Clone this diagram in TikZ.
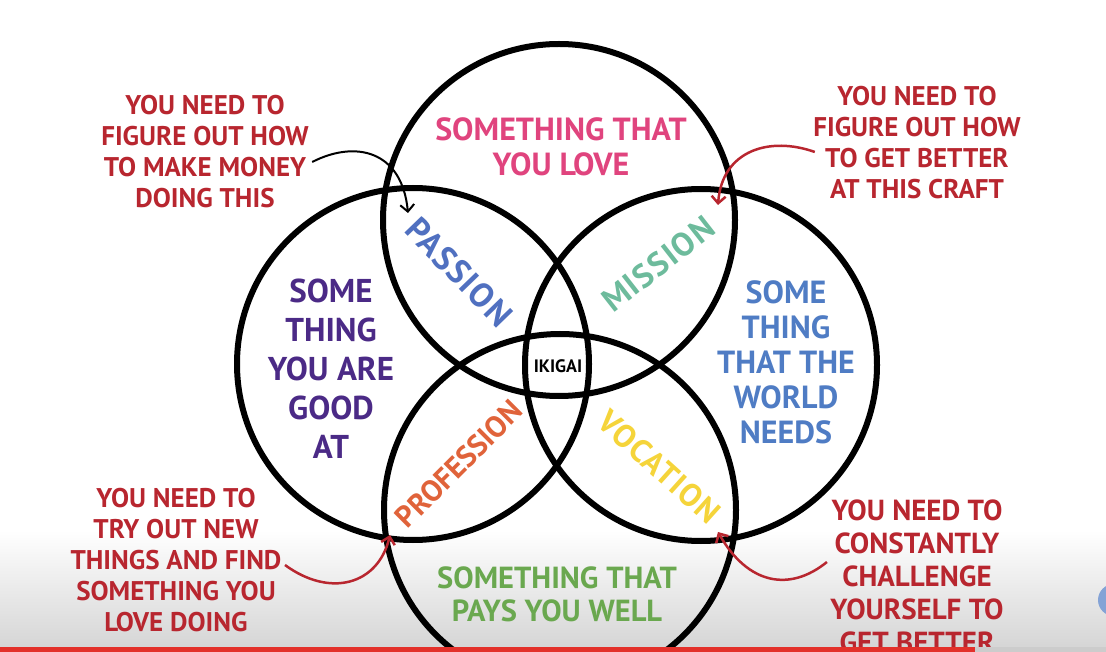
\documentclass[tikz,border=0pt]{standalone}
\usepackage{fontspec}
\setmainfont{PT Sans}
\usetikzlibrary{arrows.meta}
\definecolor{advicered}{HTML}{B8262F}
\definecolor{lovepink}{HTML}{E0447E}
\definecolor{goodpurple}{HTML}{4B2A86}
\definecolor{worldblue}{HTML}{4F7CC4}
\definecolor{paidgreen}{HTML}{6AA84F}
\definecolor{passionblue}{HTML}{5070C0}
\definecolor{missionteal}{HTML}{6DBB9C}
\definecolor{professionorange}{HTML}{E0633A}
\definecolor{vocationyellow}{HTML}{F5D43A}
\definecolor{barred}{HTML}{E3302A}
\begin{document}
\begin{tikzpicture}[x=1pt, y=-1pt,
    ring/.style={draw, circle, line width=6pt, minimum size=352pt, inner sep=0pt},
    advice/.style={text=advicered, align=center, font=\fontsize{27}{31}\selectfont\bfseries},
    region/.style={align=center, font=\fontsize{32}{35}\selectfont\bfseries},
    overlap/.style={font=\fontsize{32}{32}\selectfont\bfseries\addfontfeature{LetterSpace=4}},
    pointer/.style={line width=2.5pt, draw=advicered, -{Straight Barb[length=7pt,width=14pt]}}]
    \clip (0,0) rectangle (1106,652);
    \shade[top color=white, bottom color=black!17] (0,530) rectangle (1106,652);
    % the four circles
    \foreach \n/\x/\y in {love/559/220, good/413/364, world/701/365, paid/560/510}
        \node[ring] (\n) at (\x,\y) {};
    \node[region, text=lovepink] (loveTxt) at (561,147) {SOMETHING THAT\\YOU LOVE};
    \node[region, text=goodpurple, font=\fontsize{33}{39}\selectfont\bfseries] (goodTxt) at (331,369) {SOME\\THING\\YOU ARE\\GOOD\\AT};
    \node[region, text=worldblue] (worldTxt) at (786,362) {SOME\\THING\\THAT THE\\WORLD\\NEEDS};
    \node[region, text=paidgreen, font=\fontsize{30.5}{33}\selectfont\bfseries] (paidTxt) at (557,594) {SOMETHING THAT\\PAYS YOU WELL};
    \node[overlap, text=passionblue, rotate=-46, font=\fontsize{34}{34}\selectfont\bfseries\addfontfeature{LetterSpace=4}] (passion) at (459,272) {PASSION};
    \node[overlap, text=missionteal, rotate=38, font=\fontsize{33}{33}\selectfont\bfseries\addfontfeature{LetterSpace=4}] (mission) at (658,264) {MISSION};
    \node[overlap, text=professionorange, rotate=45, font=\fontsize{30}{30}\selectfont\bfseries] (profession) at (459,464) {PROFESSION};
    \node[overlap, text=vocationyellow, rotate=-42] (vocation) at (659,467) {VOCATION};
    \node[font=\fontsize{18}{18}\selectfont\bfseries] (ikigai) at (558,366) {IKIGAI};
    % advice
    \node[advice] (money) at (205,152) {YOU NEED TO\\FIGURE OUT HOW\\TO MAKE MONEY\\DOING THIS};
    \node[advice] (craft) at (917,143) {YOU NEED TO\\FIGURE OUT HOW\\TO GET BETTER\\AT THIS CRAFT};
    \node[advice] (trynew) at (176,560) {YOU NEED TO\\TRY OUT NEW\\THINGS AND FIND\\SOMETHING YOU\\LOVE DOING};
    \node[advice, font=\fontsize{29}{33}\selectfont\bfseries] (challenge) at (917,576) {YOU NEED TO\\CONSTANTLY\\CHALLENGE\\YOURSELF TO\\GET BETTER};
    \coordinate (moneyTip) at (408,213);
    \coordinate (craftTip) at (718,205);
    \coordinate (trynewTip) at (390,535);
    \coordinate (challengeTip) at (718,532);
    \draw[pointer, draw=black, line width=2pt] ([yshift=-10pt]money.east) .. controls (355,140) and (402,150) .. (moneyTip);
    \draw[pointer] ([shift={(5pt,-9pt)}]craft.west) .. controls (770,136) and (722,150) .. (craftTip);
    \draw[pointer] ([yshift=-5pt]trynew.east) .. controls (330,598) and (378,585) .. (trynewTip);
    \draw[pointer] ([yshift=14pt]challenge.west) .. controls (790,592) and (748,585) .. (challengeTip);
    % bottom bar
    \fill[barred] (0,647) rectangle (975,652);
    \fill[black!20] (975,647) rectangle (1106,652);
    \fill[worldblue!70] (1114,600) circle (16);
\end{tikzpicture}
\end{document}
